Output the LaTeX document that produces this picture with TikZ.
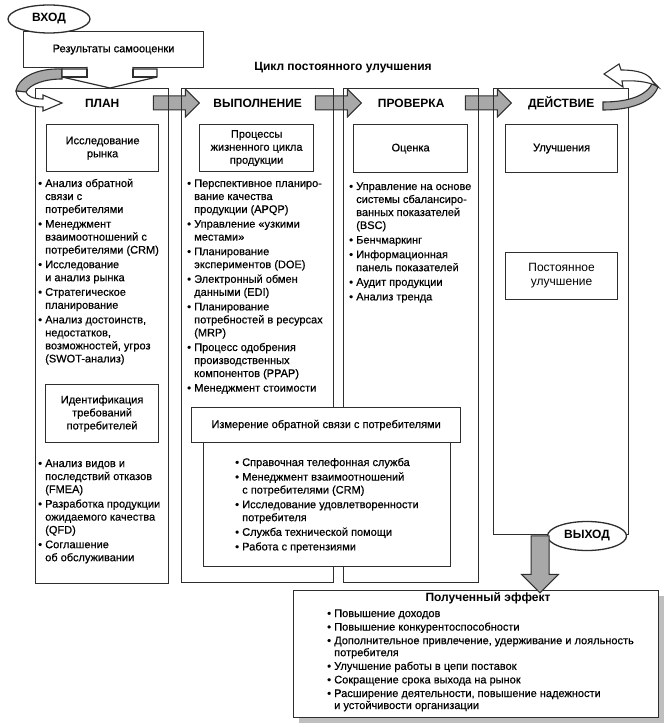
\documentclass[tikz,border=0pt]{standalone}
\usepackage{fontspec}
\setmainfont{Liberation Sans}
\newfontfamily\medfont[FakeBold=0.5]{Liberation Sans}
\usetikzlibrary{shapes.geometric,shapes.arrows,shadows,calc,backgrounds}
\definecolor{arrgray}{HTML}{A8A8A8}
\definecolor{ln}{HTML}{2E2E2E}
\newcommand{\itm}[1]{\textbullet&\begin{tabular}[t]{@{}l@{}}#1\end{tabular}\\\noalign{\vskip1.6pt}}
\newenvironment{blist}{\begin{tabular}[t]{@{}l@{\hspace{3.2pt}}l@{}}}{\end{tabular}}

\begin{document}
\begin{tikzpicture}[x=1pt,y=-1pt,
	col/.style={draw=ln,line width=1.4pt,inner sep=0,anchor=north west},
	ibox/.style={draw=ln,line width=1.2pt,fill=white,inner sep=0,anchor=north west,align=center,font=\medfont\fontsize{11pt}{13pt}\selectfont},
	hd/.style={font=\fontsize{12pt}{14pt}\selectfont\bfseries},
	oval/.style={ellipse,draw=ln,line width=1.3pt,fill=white,inner sep=0,font=\fontsize{12pt}{14pt}\selectfont\bfseries},
	lst/.style={inner sep=0,anchor=base west,font=\medfont\fontsize{11pt}{13pt}\selectfont},
	blk/.style={single arrow,draw=ln,line width=1pt,fill=arrgray,inner sep=6.5pt,single arrow head extend=7pt,minimum height=46pt,anchor=tip}]
	\useasboundingbox (0,0) rectangle (666,727);
	%
	\node[ibox,minimum width=180pt,minimum height=36pt,fill=white] (self) at (23,31) {Результаты самооценки};
	\node[oval,minimum width=82pt,minimum height=28pt] (vhod) at (49,19) {ВХОД};
	\node[hd] (cycle) at (343,68) {Цикл постоянного улучшения};
	%
	\node[col,minimum width=133pt,minimum height=495pt] (plan) at (35,88) {};
	\node[col,minimum width=152pt,minimum height=494pt] (vyp) at (181,88) {};
	\node[col,minimum width=135pt,minimum height=494pt] (prov) at (343,88) {};
	\node[col,minimum width=135pt,minimum height=446pt] (deyst) at (493,88) {};
	\node[hd] at ($(plan.north)+(0,15)$) {ПЛАН};
	\node[hd] at ($(vyp.north)+(0,15)$) {ВЫПОЛНЕНИЕ};
	\node[hd] at ($(prov.north)+(0,15)$) {ПРОВЕРКА};
	\node[hd] at ($(deyst.north)+(0,15)$) {ДЕЙСТВИЕ};
	\begin{scope}[on background layer]
		\foreach \s/\t in {plan/vyp,vyp/prov,prov/deyst}
			\node[blk] (\s-\t) at ($(\t.north west)+(19,15)$) {};
	\end{scope}
	%
	\node[ibox,minimum width=112pt,minimum height=47pt] (market) at (46,124) {Исследование\\рынка};
	\node[ibox,minimum width=114pt,minimum height=47pt] (proc) at (199,124) {Процессы\\жизненного цикла\\продукции};
	\node[ibox,minimum width=114pt,minimum height=48pt] (ocen) at (353,124) {Оценка};
	\node[ibox,minimum width=112pt,minimum height=48pt] (ulu) at (505,124) {Улучшения};
	\node[ibox,minimum width=112pt,minimum height=47pt,font=\fontsize{12pt}{14pt}\selectfont] (post) at (505,252) {Постоянное\\улучшение};
	\node[ibox,minimum width=113pt,minimum height=58pt] (ident) at (45,384) {Идентификация\\требований\\потребителей};
	%
	\node[lst] (planlist) at (38,187) {\begin{blist}
		\itm{Анализ обратной\\связи с\\потребителями}
		\itm{Менеджмент\\взаимоотношений с\\потребителями (CRM)}
		\itm{Исследование\\и анализ рынка}
		\itm{Стратегическое\\планирование}
		\itm{Анализ достоинств,\\недостатков,\\возможностей, угроз\\(SWOT-анализ)}
	\end{blist}};
	\node[lst] (identlist) at (38,467) {\begin{blist}
		\itm{Анализ видов и\\последствий отказов\\(FMEA)}
		\itm{Разработка продукции\\ожидаемого качества\\(QFD)}
		\itm{Соглашение\\об обслуживании}
	\end{blist}};
	\node[lst] (proclist) at (187,187) {\begin{blist}
		\itm{Перспективное планиро-\\вание качества\\продукции (APQP)}
		\itm{Управление «узкими\\местами»}
		\itm{Планирование\\экспериментов (DOE)}
		\itm{Электронный обмен\\данными (EDI)}
		\itm{Планирование\\потребностей в ресурсах\\(MRP)}
		\itm{Процесс одобрения\\производственных\\компонентов (PPAP)}
		\itm{Менеджмент стоимости}
	\end{blist}};
	\node[lst] (ocenlist) at (349,190) {\begin{blist}
		\itm{Управление на основе\\системы сбалансиро-\\ванных показателей\\(BSC)}
		\itm{Бенчмаркинг}
		\itm{Информационная\\панель показателей}
		\itm{Аудит продукции}
		\itm{Анализ тренда}
	\end{blist}};
	%
	\node[ibox,minimum width=247pt,minimum height=124pt] (measbox) at (203,442) {};
	\node[ibox,minimum width=269pt,minimum height=35pt] (meas) at (191,407) {Измерение обратной связи с потребителями};
	\node[lst] (measlist) at (235,466) {\begin{blist}
		\itm{Справочная телефонная служба}
		\itm{Менеджмент взаимоотношений\\с потребителями (CRM)}
		\itm{Исследование удовлетворенности\\потребителя}
		\itm{Служба технической помощи}
		\itm{Работа с претензиями}
	\end{blist}};
	%
	\node[ibox,minimum width=365pt,minimum height=127pt,drop shadow={shadow xshift=5pt,shadow yshift=-5pt,opacity=0.5}] (effect) at (293,590) {};
	\node[hd] (efftitle) at (488,598) {Полученный эффект};
	\node[lst,font=\medfont\fontsize{11pt}{12pt}\selectfont] (efflist) at (327,617) {\begin{blist}
		\itm{Повышение доходов}
		\itm{Повышение конкурентоспособности}
		\itm{Дополнительное привлечение, удерживание и лояльность\\потребителя}
		\itm{Улучшение работы в цепи поставок}
		\itm{Сокращение срока выхода на рынок}
		\itm{Расширение деятельности, повышение надежности\\и устойчивости организации}
	\end{blist}};
	\node[oval,minimum width=79pt,minimum height=29pt] (vyhod) at (587,536) {ВЫХОД};
	\node[single arrow,draw=ln,line width=1pt,fill=arrgray,inner sep=8.5pt,single arrow head extend=9.5pt,minimum height=57pt,shape border rotate=270,anchor=tail] (out) at ($(deyst.south west)+(47,0)$) {};
	%
	\draw[ln,line width=1.1pt,fill=arrgray] (62,69) .. controls (36,68) and (18,78) .. (16,91) -- (26,92) .. controls (30,84) and (45,79) .. (62,79) -- cycle;
	\draw[ln,line width=1.1pt,fill=white] (16,91) .. controls (17,102) and (30,107) .. (43,107) -- (43,111) -- (62,103) -- (43,95) -- (43,99) .. controls (33,99) and (27,96) .. (26,92) -- cycle;
	\draw[ln,line width=1.2pt,fill=white] (87,67) -- (87,69) -- (62,69) -- (62,77) -- (110,88) -- (157,77) -- (157,69) -- (133,69) -- (133,67);
	\draw[ln,line width=1.2pt] (87,69) -- (87,77) -- (62,77) (133,69) -- (133,77) -- (157,77);
	%
	\draw[ln,line width=1.1pt,fill=arrgray] (603,102) .. controls (628,102) and (647,96) .. (653,82) -- (658,87) .. controls (652,103) and (630,110) .. (603,110) -- cycle;
	\draw[ln,line width=1.1pt,fill=white] (653,82) .. controls (649,73) and (637,70) .. (621,70) -- (619,64) -- (604,74) -- (623,87) -- (622,81) .. controls (640,80) and (652,83) .. (658,87) -- cycle;
\end{tikzpicture}
\end{document}
